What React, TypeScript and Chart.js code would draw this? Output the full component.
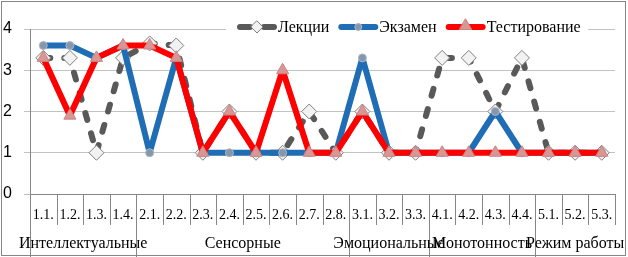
import React, { useEffect, useRef } from 'react';
import { Chart, registerables } from 'chart.js';

Chart.register(...registerables);

const categories = [
  '1.1.', '1.2.', '1.3.', '1.4.',
  '2.1.', '2.2.', '2.3.', '2.4.', '2.5.', '2.6.', '2.7.', '2.8.',
  '3.1.', '3.2.', '3.3.',
  '4.1.', '4.2.', '4.3.', '4.4.',
  '5.1.', '5.2.', '5.3.',
];
const groupLabels = ['Интеллектуальные', 'Сенсорные', 'Эмоциональные', 'Монотонность', 'Режим работы'];
const groupSizes = [4, 8, 3, 4, 3];
const seriesNames = ['Лекции', 'Экзамен', 'Тестирование'];
const lectures = [3.3, 3.3, 1, 3.3, 3.65, 3.6, 1, 2, 1, 1, 2, 1, 2, 1, 1, 3.3, 3.3, 2, 3.3, 1, 1, 1];
const exam = [3.6, 3.6, 3.3, 3.6, 1, 3.3, 1, 1, 1, 1, 1, 1, 3.3, 1, 1, 1, 1, 2, 1, 1, 1, 1];
const tests = [3.3, 1.9, 3.3, 3.6, 3.6, 3.3, 1, 2, 1, 3, 1, 1, 2, 1, 1, 1, 1, 1, 1, 1, 1, 1];
const yTicks = [0, 1, 2, 3, 4];

const SERIF = '"Liberation Serif", "Times New Roman", serif';
const SANS = '"Liberation Sans", Arial, sans-serif';
const AXIS = '#868686';
const GRID = '#c3c3c3';
const LECT = '#595959';
const EXAM = '#1f6db4';
const TEST = '#ff0000';

function drawDiamond(ctx: CanvasRenderingContext2D, x: number, y: number, r: number) {
  ctx.beginPath();
  ctx.moveTo(x, y - r);
  ctx.lineTo(x + r, y);
  ctx.lineTo(x, y + r);
  ctx.lineTo(x - r, y);
  ctx.closePath();
  ctx.fillStyle = '#f2f2f2';
  ctx.fill();
  ctx.lineWidth = 1;
  ctx.strokeStyle = '#7f7f7f';
  ctx.stroke();
}
function drawCircle(ctx: CanvasRenderingContext2D, x: number, y: number, r: number) {
  ctx.beginPath();
  ctx.arc(x, y, r, 0, Math.PI * 2);
  ctx.fillStyle = '#8797ab';
  ctx.fill();
  ctx.lineWidth = 1;
  ctx.strokeStyle = '#a9b6c6';
  ctx.stroke();
}
function drawTriangle(ctx: CanvasRenderingContext2D, x: number, y: number, r: number) {
  ctx.beginPath();
  ctx.moveTo(x, y - r);
  ctx.lineTo(x + r * 0.87, y + r * 0.5);
  ctx.lineTo(x - r * 0.87, y + r * 0.5);
  ctx.closePath();
  ctx.fillStyle = '#d99694';
  ctx.fill();
  ctx.lineWidth = 1;
  ctx.strokeStyle = '#c98482';
  ctx.stroke();
}

const decorPlugin = {
  id: 'decor',
  afterDraw(chart: any) {
    const ctx: CanvasRenderingContext2D = chart.ctx;
    const x = chart.scales.x;
    const area = chart.chartArea;
    const n = categories.length;
    const px = (i: number) => x.getPixelForValue(i);
    const boundary = (i: number) => {
      if (i <= 0) return px(0) - (px(1) - px(0)) / 2;
      if (i >= n) return px(n - 1) + (px(n - 1) - px(n - 2)) / 2;
      return (px(i - 1) + px(i)) / 2;
    };
    ctx.save();
    const groupStarts: number[] = [0];
    groupSizes.forEach((s, gi) => groupStarts.push(groupStarts[gi] + s));
    ctx.strokeStyle = AXIS;
    ctx.lineWidth = 1;
    for (let i = 0; i <= n; i++) {
      const bx = Math.round(boundary(i)) + 0.5;
      const isGroup = groupStarts.includes(i) && i < n;
      ctx.beginPath();
      ctx.moveTo(bx, area.bottom);
      ctx.lineTo(bx, isGroup ? 257 : 225);
      ctx.stroke();
    }
    ctx.fillStyle = '#000';
    ctx.font = '16px ' + SERIF;
    ctx.textAlign = 'center';
    ctx.textBaseline = 'middle';
    groupLabels.forEach((g, gi) => {
      const cx = (boundary(groupStarts[gi]) + boundary(groupStarts[gi + 1])) / 2;
      ctx.fillText(g, cx, 244);
    });

    const ly = 27;
    ctx.fillStyle = '#fff';
    ctx.fillRect(226, 17, 362, 20);
    ctx.font = '16px ' + SERIF;
    ctx.textAlign = 'left';
    let lx = 237;
    const gap = 9;
    seriesNames.forEach((name, si) => {
      ctx.lineCap = 'round';
      ctx.lineWidth = 6;
      ctx.setLineDash([]);
      if (si === 0) {
        ctx.strokeStyle = LECT;
        ctx.beginPath();
        ctx.moveTo(lx + 3, ly); ctx.lineTo(lx + 13, ly);
        ctx.moveTo(lx + 27, ly); ctx.lineTo(lx + 37, ly);
        ctx.stroke();
        drawDiamond(ctx, lx + 20, ly, 6);
      } else if (si === 1) {
        ctx.strokeStyle = EXAM;
        ctx.beginPath();
        ctx.moveTo(lx + 3, ly); ctx.lineTo(lx + 37, ly);
        ctx.stroke();
        drawCircle(ctx, lx + 20, ly, 3.5);
      } else {
        ctx.strokeStyle = TEST;
        ctx.beginPath();
        ctx.moveTo(lx + 3, ly); ctx.lineTo(lx + 37, ly);
        ctx.stroke();
        drawTriangle(ctx, lx + 20, ly - 1, 7);
      }
      ctx.fillStyle = '#000';
      ctx.fillText(name, lx + 41, ly + 1);
      lx += 41 + ctx.measureText(name).width + gap;
    });

    ctx.strokeStyle = AXIS;
    ctx.lineWidth = 1;
    ctx.setLineDash([]);
    ctx.strokeRect(1.5, 1.5, 624, 254);
    ctx.restore();
  },
};

export default function App() {
  const ref = useRef<HTMLCanvasElement | null>(null);
  useEffect(() => {
    document.body.style.margin = '0';
    const canvas = ref.current!;
    const chart = new Chart(canvas, {
      type: 'line',
      data: {
        labels: categories,
        datasets: [
          {
            label: seriesNames[0],
            data: lectures,
            order: 3,
            borderColor: LECT,
            borderWidth: 6,
            borderDash: [7, 14],
            borderCapStyle: 'round',
            borderJoinStyle: 'round',
            pointStyle: 'rectRot',
            pointRadius: 7.5,
            pointBackgroundColor: '#f2f2f2',
            pointBorderColor: '#7f7f7f',
            pointBorderWidth: 1,
            tension: 0,
          },
          {
            label: seriesNames[1],
            data: exam,
            order: 2,
            borderColor: EXAM,
            borderWidth: 6,
            borderCapStyle: 'round',
            borderJoinStyle: 'round',
            pointStyle: 'circle',
            pointRadius: 4,
            pointBackgroundColor: '#8797ab',
            pointBorderColor: '#a9b6c6',
            pointBorderWidth: 1,
            tension: 0,
          },
          {
            label: seriesNames[2],
            data: tests,
            order: 1,
            borderColor: TEST,
            borderWidth: 6,
            borderCapStyle: 'round',
            borderJoinStyle: 'round',
            pointStyle: 'triangle',
            pointRadius: 7,
            pointBackgroundColor: '#d99694',
            pointBorderColor: '#c98482',
            pointBorderWidth: 1,
            tension: 0,
          },
        ],
      },
      options: {
        responsive: false,
        animation: false,
        events: [],
        layout: { padding: { left: 3, right: 13, top: 29, bottom: 0 } },
        plugins: { legend: { display: false }, tooltip: { enabled: false } },
        scales: {
          x: {
            type: 'category',
            offset: true,
            grid: { display: false, drawOnChartArea: false, drawTicks: false },
            border: { display: true, color: AXIS, width: 1 },
            ticks: {
              autoSkip: false,
              maxRotation: 0,
              minRotation: 0,
              padding: 13,
              color: '#000',
              font: { family: SERIF, size: 14 },
            },
            afterFit: (s: any) => { s.height = 63; },
          },
          y: {
            min: 0,
            max: 4,
            afterBuildTicks: (s: any) => { s.ticks = yTicks.map((v) => ({ value: v })); },
            grid: { color: GRID, lineWidth: 1, drawTicks: true, tickLength: 6, tickColor: GRID },
            border: { display: true, color: AXIS, width: 1 },
            ticks: {
              crossAlign: 'far',
              padding: 0,
              color: '#000',
              font: { family: SANS, size: 16 },
            },
            afterFit: (s: any) => { s.width = 27; },
          },
        },
      },
      plugins: [decorPlugin],
    } as any);
    return () => chart.destroy();
  }, []);
  return (
    <canvas
      ref={ref}
      width={628}
      height={257}
      style={{ display: 'block', width: 628, height: 257 }}
    />
  );
}
